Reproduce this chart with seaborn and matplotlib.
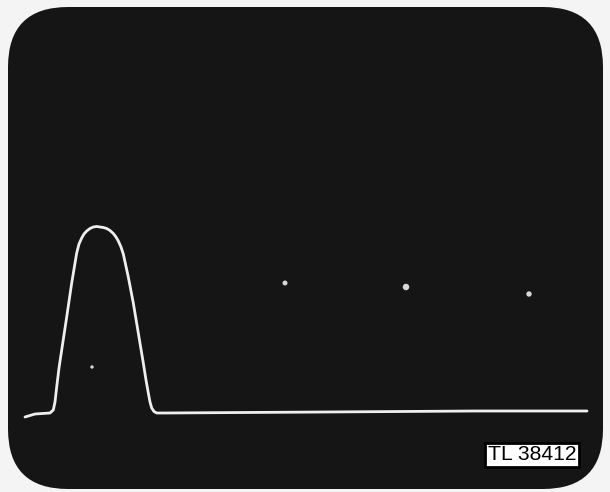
import matplotlib
matplotlib.use('Agg')
import matplotlib.pyplot as plt
import seaborn as sns
import pandas as pd
from matplotlib.patches import FancyBboxPatch

# Dados do traço (tempo em unidades arbitrárias, amplitude relativa à linha de base)
tempo = [0, 10, 25, 28.3, 30, 31.7, 34, 36.7, 41.7, 46.7, 51.7, 54, 56.7, 59, 61.7,
         65, 68.3, 71.7, 75, 78.3, 81.7, 85, 88.3, 91, 93.3, 96, 98.3, 103.3, 108.3,
         113.3, 118.3, 121, 123.3, 125, 126.7, 129, 131.7, 140, 300, 450, 562]
amplitude = [-5, -2, -1, 2, 10, 25, 44, 62, 95, 129, 159, 168, 174, 178, 181,
             183.5, 185, 185.5, 185, 184.5, 183.5, 181.5, 178.5, 175, 171, 165, 158, 135, 109,
             79, 49, 32, 19, 10, 4, 0.5, -1, -1, 0, 1, 1]

# Pontos luminosos na tela
pontos_t = [260, 381, 504, 67]
pontos_a = [129, 125, 118, 45]
pontos_tam = [14, 22, 16, 8]

rotulo = "TL 38412"

df = pd.DataFrame({'tempo': tempo, 'amplitude': amplitude})
df_pts = pd.DataFrame({'t': pontos_t, 'a': pontos_a, 's': pontos_tam})

sns.set_style('white')
fig = plt.figure(figsize=(6.10, 4.92), dpi=100)
fig.patch.set_facecolor('#f4f4f4')
ax = fig.add_axes([0, 0, 1, 1])
ax.set_facecolor('#f4f4f4')

# tela do osciloscópio
tela = FancyBboxPatch((-17 + 55, -77 + 55), 595 - 110, 482 - 110,
                      boxstyle='round,pad=55,rounding_size=60',
                      facecolor='#151515', edgecolor='none', zorder=0)
ax.add_patch(tela)

sns.lineplot(data=df, x='tempo', y='amplitude', ax=ax, color='#efefef',
             linewidth=2.0, sort=False, zorder=3,
             solid_joinstyle='round', solid_capstyle='round')
sns.scatterplot(data=df_pts, x='t', y='a', size='s', sizes=(6, 22), ax=ax,
                color='#d8d8d8', edgecolor='none', legend=False, zorder=2)

ax.text(507, -43, rotulo, fontsize=15.2, family='Liberation Sans', color='black',
        ha='center', va='center', zorder=5,
        bbox=dict(boxstyle='square,pad=0.14', facecolor='white', edgecolor='black', linewidth=2))

ax.set_xlim(-25, 585)
ax.set_ylim(-80, 412)
ax.set_xlabel('')
ax.set_ylabel('')
ax.set_xticks([])
ax.set_yticks([])
for s in ax.spines.values():
    s.set_visible(False)

fig.savefig('out.png', dpi=100, facecolor=fig.get_facecolor())
